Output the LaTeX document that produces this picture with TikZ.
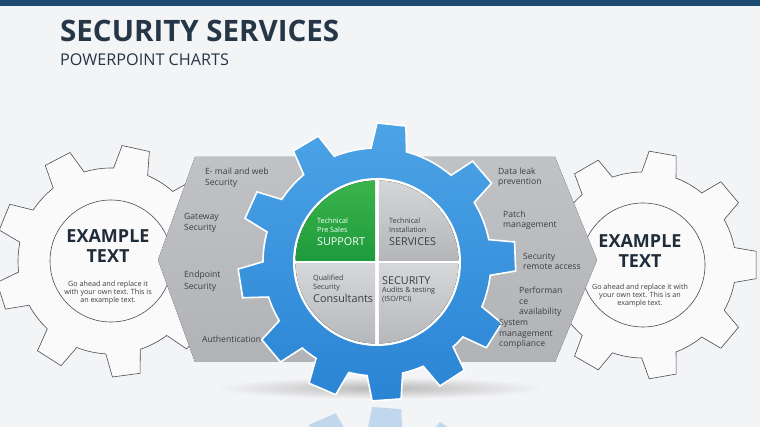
\documentclass[tikz,border=0pt]{standalone}
\usepackage{fontspec}
\setmainfont{Open Sans}
\usetikzlibrary{positioning}
\definecolor{bgcol}{HTML}{F3F4F6}
\definecolor{barblue}{HTML}{1C4A70}
\definecolor{titleink}{HTML}{253646}
\definecolor{bandtop}{HTML}{C0C2C5}
\definecolor{bandbot}{HTML}{B1B3B6}
\definecolor{labelink}{HTML}{3C3D40}
\definecolor{cogtop}{HTML}{4CA3E6}
\definecolor{cogbot}{HTML}{2A84D4}
\definecolor{greentop}{HTML}{3CB54B}
\definecolor{greenbot}{HTML}{1E9B3D}
\definecolor{quadtop}{HTML}{D6D7D9}
\definecolor{quadbot}{HTML}{B4B6B9}
\definecolor{cogedge}{HTML}{4A4D52}
\definecolor{headink}{HTML}{1F2C39}
% gear outline: root r, tip r, root half angle, tip half angle, first tooth, tooth/next pairs
\newcommand{\cogpath}[6]{(#5-#3:#1) \foreach \ta/\tb in {#6} { -- (\ta-#4:#2) -- (\ta+#4:#2) -- (\ta+#3:#1) arc[start angle=\ta+#3, end angle=\tb-#3, radius=#1] } -- cycle}
\newcommand{\bluecog}{\cogpath{114}{139}{9}{6}{32.1}{32.1/57.1, 57.1/86, 86/113.3, 113.3/140, 140/171.1, 171.1/204.3, 204.3/239, 239/276, 276/319.5, 319.5/357.7, 357.7/392.1}}
\tikzset{
  titletext/.style={font=\fontsize{29.5}{31}\selectfont\bfseries, text=titleink, inner sep=0pt, anchor=base west},
  subtitletext/.style={font=\fontsize{16.2}{18}\selectfont, text=titleink, inner sep=0pt, anchor=base west},
  sidecog/.style={draw=cogedge, line width=0.6pt, fill=white!55!bgcol},
  sidelabel/.style={font=\fontsize{8.6}{11.5}\selectfont, text=labelink, align=left, inner sep=0pt, anchor=base west},
  rightlabel/.style={sidelabel, font=\fontsize{8.6}{10.5}\selectfont},
  quadsmall/.style={font=\fontsize{7.2}{9}\selectfont, text=labelink, align=left, inner sep=0pt, anchor=base west},
  quadbig/.style={font=\fontsize{10.8}{12}\selectfont, text=labelink, inner sep=0pt, anchor=base west},
  headline/.style={font=\fontsize{18}{20}\selectfont\bfseries, text=headink, align=center, inner sep=0pt, anchor=base},
  blurb/.style={font=\fontsize{7.2}{8.2}\selectfont, text=labelink, align=center, inner sep=0pt, anchor=base}
}
\begin{document}
\begin{tikzpicture}[x=1pt,y=-1pt]
  \useasboundingbox (0,0) rectangle (760,427);
  \fill[bgcol] (0,0) rectangle (760,427);
  \fill[barblue] (0,0) rectangle (760,6);

  \node[titletext] (title) at (60,42) {SECURITY SERVICES};
  \node[subtitletext] (subtitle) at (60,66) {POWERPOINT CHARTS};

  \coordinate (lg) at (111,261);
  \coordinate (rg) at (643,265);
  \coordinate (cg) at (377,262);

  % white side gears
  \draw[sidecog, shift={(lg)}] \cogpath{93}{116}{10.8}{6.9}{2.4}{2.4/42.4, 42.4/82.4, 82.4/122.4, 122.4/162.4, 162.4/202.4, 202.4/242.4, 242.4/282.4, 282.4/322.4, 322.4/362.4};
  \draw[sidecog, shift={(rg)}] \cogpath{93}{114}{10.8}{6.9}{0}{0/40, 40/80, 80/120, 120/160, 160/200, 200/240, 240/280, 280/320, 320/360};
  \draw[sidecog] (lg) circle[radius=61];
  \draw[sidecog] (rg) circle[radius=62];

  % gray band
  \fill[top color=bandtop, bottom color=bandbot] (195,157) -- (555,157) -- (597,260) -- (555,362) -- (195,362) -- (158,260) -- cycle;
  \shade[inner color=black!28, outer color=bgcol] (380,388) ellipse[x radius=165, y radius=11];

  % reflection
  \begin{scope}
    \clip (0,404) rectangle (760,427);
    \begin{scope}[shift={(0,808)}, yscale=-1, opacity=0.25]
      \fill[cogbot, shift={(377,262)}] \bluecog;
    \end{scope}
  \end{scope}

  % blue gear
  \draw[draw=white, line width=1.6pt, top color=cogtop, bottom color=cogbot, shift={(cg)}] \bluecog;
  \fill[white] (cg) circle[radius=84];
  \begin{scope}[shift={(cg)}]
    \clip (0,0) circle[radius=81.5];
    \fill[top color=greentop, bottom color=greenbot] (-85,-85) rectangle (-1.8,-1.8);
    \fill[top color=quadtop, bottom color=quadbot] (1.8,-85) rectangle (85,-1.8);
    \fill[top color=quadtop, bottom color=quadbot] (-85,1.8) rectangle (-1.8,85);
    \fill[top color=quadtop, bottom color=quadbot] (1.8,1.8) rectangle (85,85);
  \end{scope}

  % quadrant texts (base = last line)
  \node[quadsmall, text=white] (supports) at (317,233) {Technical\\Pre Sales};
  \node[quadbig, text=white] (supportb) at (317,246) {SUPPORT};
  \node[quadsmall] (services) at (389,233) {Technical\\Installation};
  \node[quadbig] (servicesb) at (389,246) {SERVICES};
  \node[quadsmall] (consults) at (313,290) {Qualified\\Security};
  \node[quadbig] (consultb) at (313,303) {Consultants};
  \node[quadbig] (auditb) at (382,285) {SECURITY};
  \node[quadsmall] (audits) at (382,302) {Audits \& testing\\(ISO/PCI)};

  % band labels
  \node[sidelabel] (email) at (205,186) {E- mail and web\\Security};
  \node[sidelabel] (gateway) at (184,231) {Gateway\\Security};
  \node[sidelabel] (endpoint) at (184,289.5) {Endpoint\\Security};
  \node[sidelabel] (auth) at (202,343) {Authentication};
  \node[rightlabel] (leak) at (498,185) {Data leak\\prevention};
  \node[rightlabel] (patch) at (503,228) {Patch\\management};
  \node[rightlabel] (remote) at (523,270) {Security\\remote access};
  \node[rightlabel] (perf) at (519,315) {Performan\\ce\\availability};
  \node[rightlabel] (sysman) at (499,347) {System\\management\\compliance};

  % side gear texts
  \node[headline] (lhead) at (108,263) {EXAMPLE\\TEXT};
  \node[blurb] (lblurb) at (108,303) {Go ahead and replace it\\with your own text. This is\\an example text.};
  \node[headline] (rhead) at (640,268) {EXAMPLE\\TEXT};
  \node[blurb] (rblurb) at (640,306) {Go ahead and replace it with\\your own text. This is an\\example text.};
\end{tikzpicture}
\end{document}
